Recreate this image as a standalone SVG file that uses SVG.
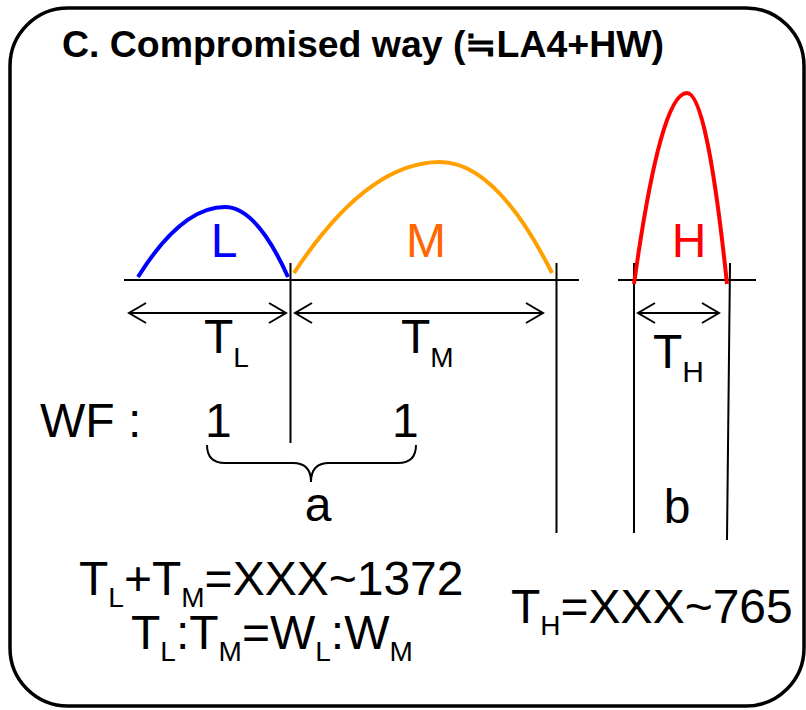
<svg xmlns="http://www.w3.org/2000/svg" width="806" height="710" viewBox="0 0 806 710">
<defs>
<style>
.t{font-family:"Liberation Sans",Arial,"Noto Sans CJK JP",sans-serif;font-size:48px;fill:#000}
.s{font-size:28px}
.ln{stroke:#000;stroke-width:2;fill:none}
.cv{fill:none;stroke-width:4;stroke-linecap:butt}
.arr{stroke:#000;stroke-width:2;fill:none;marker-start:url(#ah);marker-end:url(#ah)}
</style>
<marker id="ah" markerUnits="userSpaceOnUse" markerWidth="40" markerHeight="40" viewBox="-20 -20 40 40" refX="0" refY="0" orient="auto-start-reverse">
<path d="M-17,-10 L0,0 L-17,10" fill="none" stroke="#000" stroke-width="2"/>
</marker>
</defs>
<rect id="frame" x="10" y="8" width="794" height="698" rx="58" ry="58" fill="#fff" stroke="#000" stroke-width="3.5"/>
<text id="title" x="62" y="57" font-family="Liberation Sans, Arial, Noto Sans CJK JP, sans-serif" font-weight="bold" font-size="36" textLength="602" lengthAdjust="spacingAndGlyphs">C. Compromised way (<tspan font-family="Noto Sans CJK JP, sans-serif" font-weight="bold">≒</tspan>LA4+HW)</text>

<g id="axes">
<line class="ln" x1="124" y1="280" x2="579" y2="280" stroke-width="2.5"/>
<line class="ln" x1="618" y1="280" x2="756" y2="280" stroke-width="2.5"/>
</g>

<g id="connectors">
<line class="ln" x1="290.5" y1="263" x2="290.5" y2="443"/>
<line class="ln" x1="556.5" y1="263" x2="556.5" y2="533"/>
<line class="ln" x1="634" y1="263" x2="634" y2="533"/>
<line class="ln" x1="730" y1="263" x2="727" y2="540"/>
<line class="arr" x1="129" y1="313" x2="286" y2="313"/>
<line class="arr" x1="295" y1="313" x2="543" y2="313"/>
<line class="arr" x1="638" y1="313" x2="719" y2="313"/>
<path class="ln" stroke-width="1.5" d="M207,445 Q207,463 225,463 L293,463 Q311,463 311,482 Q311,463 329,463 L398,463 Q416,463 416,445"/>
</g>

<g id="nodeL">
<path class="cv" stroke="#0000FF" d="M138,277 Q181.5,207 225,207 Q256.5,207 288,277"/>
<text class="t" x="224" y="257" text-anchor="middle" style="fill:#0000FF">L</text>
</g>
<g id="nodeM">
<path class="cv" stroke="#FFA000" d="M294,273 Q367,162 440,162 Q496,162 552,273"/>
<text class="t" x="426" y="257" text-anchor="middle" style="fill:#FF6600">M</text>
</g>
<g id="nodeH">
<path class="cv" stroke="#FF0000" d="M634,284 Q660.5,93 687,93 Q707,93 727,284"/>
<text class="t" x="689" y="257" text-anchor="middle" style="fill:#FF0000">H</text>
</g>

<g id="labels">
<text class="t" x="204" y="353">T<tspan class="s" dy="14">L</tspan></text>
<text class="t" x="401" y="353">T<tspan class="s" dy="14">M</tspan></text>
<text class="t" x="653" y="368">T<tspan style="font-size:30px" dy="14">H</tspan></text>
<text class="t" x="40" y="437">WF :</text>
<text class="t" x="205" y="437">1</text>
<text class="t" x="392" y="437">1</text>
<text class="t" x="318" y="521" text-anchor="middle">a</text>
<text class="t" x="677" y="523" text-anchor="middle">b</text>
</g>

<g id="formulas">
<text class="t" x="79" y="595">T<tspan class="s" dy="12">L</tspan><tspan dy="-12">+T</tspan><tspan class="s" dy="12">M</tspan><tspan dy="-12">=XXX~1372</tspan></text>
<text class="t" x="131" y="649">T<tspan class="s" dy="12">L</tspan><tspan dy="-12">:T</tspan><tspan class="s" dy="12">M</tspan><tspan dy="-12">=W</tspan><tspan class="s" dy="12">L</tspan><tspan dy="-12">:W</tspan><tspan class="s" dy="12">M</tspan></text>
<text class="t" x="511" y="623">T<tspan class="s" dy="12">H</tspan><tspan dy="-12">=XXX~765</tspan></text>
</g>
</svg>
